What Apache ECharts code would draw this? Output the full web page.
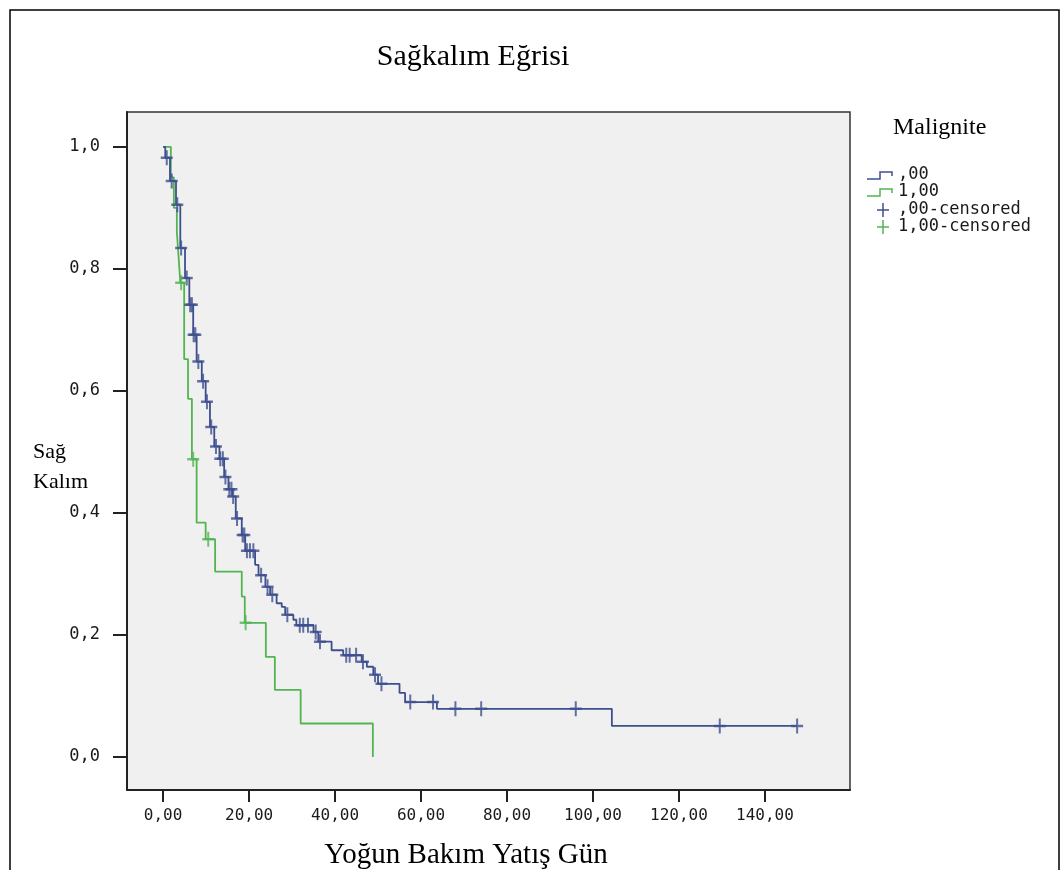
<!DOCTYPE html>
<html>
<head>
<meta charset="utf-8">
<script src="https://cdn.jsdelivr.net/npm/echarts@6/dist/echarts.min.js"></script>
<style>
html, body { margin:0; background:#fff; }
#chart { width:1062px; height:870px; }
</style>
</head>
<body>
<div id="chart"></div>
<script>

// Kaplan-Meier steps [day, survival] : group ,00
var steps00 = [
  [0,1],[0.5,0.982],[1.6,0.944],[3.0,0.905],[4.0,0.834],[5.1,0.785],[6.1,0.741],
  [7.0,0.692],[7.8,0.648],[9.0,0.616],[9.9,0.582],[10.9,0.541],[11.9,0.509],
  [13.1,0.489],[14.2,0.459],[15.2,0.439],[16.1,0.427],[16.9,0.391],[18.3,0.364],
  [19.1,0.338],[21.4,0.315],[22.2,0.298],[23.8,0.279],[24.9,0.266],[26.4,0.252],
  [27.6,0.246],[28.4,0.233],[30.3,0.225],[31.0,0.216],[35.0,0.205],[36.1,0.189],
  [39.2,0.175],[41.9,0.167],[46.2,0.156],[47.4,0.148],[48.9,0.135],[50.0,0.12],
  [55.0,0.105],[56.3,0.09],[63.7,0.079],[104.4,0.051],[147.5,0.051]
];
// group 1,00
var steps100 = [
  [0,1],[1.8,0.95],[2.5,0.9],[3.2,0.86],[3.6,0.82],[4.0,0.777],[4.9,0.652],
  [5.8,0.587],[6.7,0.488],[7.8,0.384],[9.9,0.357],[12.1,0.304],[18.3,0.263],
  [19.0,0.22],[23.9,0.164],[26.0,0.11],[32.0,0.055],[48.8,0]
];

// censored days
var censored00 = [
  0.85,2.0,3.3,4.2,5.5,6.3,6.7,7.1,7.5,8.2,9.3,10.2,11.2,12.3,13.3,13.9,14.5,
  15.4,15.9,16.3,17.2,18.5,18.9,19.5,20.2,21.0,22.8,24.3,25.4,28.9,31.8,32.6,
  33.7,35.5,36.5,42.6,43.4,44.9,46.5,49.3,50.8,57.5,62.8,68,74,96,129.5,147.5
];
var censored100 = [4.2,7.0,10.5,19.2];

var xTicks = [0,20,40,60,80,100,120,140];
var yTicks = [0,0.2,0.4,0.6,0.8,1.0];

var blue = '#3e4f8e';
var green = '#52b552';
var monoFont = 'DejaVu Sans Mono';
var serifFont = 'Liberation Serif';

// survival level on the step curve at day t
var levelAt = function(steps, t){
  var s = steps[0][1];
  for (var i = 0; i < steps.length; i++) {
    if (steps[i][0] <= t) s = steps[i][1];
  }
  return s;
}

var censorPoints = function(steps, days){
  return days.map(function(d){ return [d, levelAt(steps, d)]; });
}

var plusPath = 'path://M5,0 L7,0 L7,5 L12,5 L12,7 L7,7 L7,12 L5,12 L5,7 L0,7 L0,5 L5,5 Z';

var chart = echarts.init(document.getElementById('chart'));

var option = {
  animation: false,
  backgroundColor: '#fff',
  title: {
    text: 'Sağkalım Eğrisi',
    left: 468, top: 37, textAlign: 'center',
    textStyle: { fontFamily: serifFont, fontSize: 30, fontWeight: 'normal', color: '#000' }
  },
  grid: {
    left: 127, top: 112, right: 212, bottom: 80,
    show: true, backgroundColor: '#f0f0f0', borderColor: '#333', borderWidth: 1.5
  },
  xAxis: {
    type: 'value', min: -8.4, max: 159.8,
    splitLine: { show: false },
    axisLine: { onZero: false, lineStyle: { color: '#222', width: 2 } },
    axisTick: { length: 12, lineStyle: { color: '#222', width: 2 }, customValues: xTicks },
    axisLabel: {
      customValues: xTicks, margin: 18,
      fontFamily: monoFont, fontSize: 16, color: '#1a1a1a',
      formatter: function(v){ return v.toFixed(2).replace('.', ','); }
    }
  },
  yAxis: {
    type: 'value', min: -0.054, max: 1.057,
    splitLine: { show: false },
    axisLine: { show: true, onZero: false, lineStyle: { color: '#222', width: 2 } },
    axisTick: { show: true, length: 14, lineStyle: { color: '#222', width: 2 }, customValues: yTicks },
    axisLabel: {
      customValues: yTicks, margin: 27,
      fontFamily: monoFont, fontSize: 17, color: '#1a1a1a',
      formatter: function(v){ return v.toFixed(1).replace('.', ','); }
    }
  },
  series: [
    {
      name: ',00', type: 'line', step: 'end', data: steps00,
      showSymbol: false, lineStyle: { color: blue, width: 1.8 }, z: 3
    },
    {
      name: '1,00', type: 'line', step: 'end', data: steps100,
      showSymbol: false, lineStyle: { color: green, width: 1.8 }, z: 2
    },
    {
      name: ',00-censored', type: 'scatter', data: censorPoints(steps00, censored00),
      symbol: plusPath, symbolSize: [12, 15], itemStyle: { color: blue }, z: 4
    },
    {
      name: '1,00-censored', type: 'scatter', data: censorPoints(steps100, censored100),
      symbol: plusPath, symbolSize: [12, 15], itemStyle: { color: green }, z: 4
    }
  ],
  graphic: [
    // outer frame
    { type: 'rect', shape: { x: 10, y: 10, width: 1049, height: 880 },
      style: { fill: 'none', stroke: '#000', lineWidth: 1.5 }, silent: true },
    // axis names
    { type: 'text', left: 33, top: 437,
      style: { text: 'Sağ\nKalım', fontFamily: serifFont, fontSize: 22, lineHeight: 30, fill: '#000' } },
    { type: 'text', x: 466, y: 855,
      style: { text: 'Yoğun Bakım Yatış Gün', fontFamily: serifFont, fontSize: 29,
               align: 'center', verticalAlign: 'middle', fill: '#000' } },
    // legend
    { type: 'text', left: 893, top: 116,
      style: { text: 'Malignite', fontFamily: serifFont, fontSize: 24, fill: '#000' } },
    { type: 'polyline', shape: { points: [[867,179],[880,179],[880,172],[892,172],[892,176]] },
      style: { stroke: blue, lineWidth: 1.5, fill: 'none' } },
    { type: 'text', x: 898, y: 175,
      style: { text: ',00', fontFamily: monoFont, fontSize: 17, verticalAlign: 'middle', fill: '#1a1a1a' } },
    { type: 'polyline', shape: { points: [[867,196],[880,196],[880,189],[892,189],[892,193]] },
      style: { stroke: green, lineWidth: 1.5, fill: 'none' } },
    { type: 'text', x: 898, y: 192,
      style: { text: '1,00', fontFamily: monoFont, fontSize: 17, verticalAlign: 'middle', fill: '#1a1a1a' } },
    { type: 'line', shape: { x1: 877, y1: 210, x2: 889, y2: 210 }, style: { stroke: blue, lineWidth: 1.5 } },
    { type: 'line', shape: { x1: 883, y1: 203, x2: 883, y2: 217 }, style: { stroke: blue, lineWidth: 1.5 } },
    { type: 'text', x: 898, y: 210,
      style: { text: ',00-censored', fontFamily: monoFont, fontSize: 17, verticalAlign: 'middle', fill: '#1a1a1a' } },
    { type: 'line', shape: { x1: 877, y1: 227, x2: 889, y2: 227 }, style: { stroke: green, lineWidth: 1.5 } },
    { type: 'line', shape: { x1: 883, y1: 220, x2: 883, y2: 234 }, style: { stroke: green, lineWidth: 1.5 } },
    { type: 'text', x: 898, y: 227,
      style: { text: '1,00-censored', fontFamily: monoFont, fontSize: 17, verticalAlign: 'middle', fill: '#1a1a1a' } }
  ]
};

chart.setOption(option);
</script>
</body>
</html>
